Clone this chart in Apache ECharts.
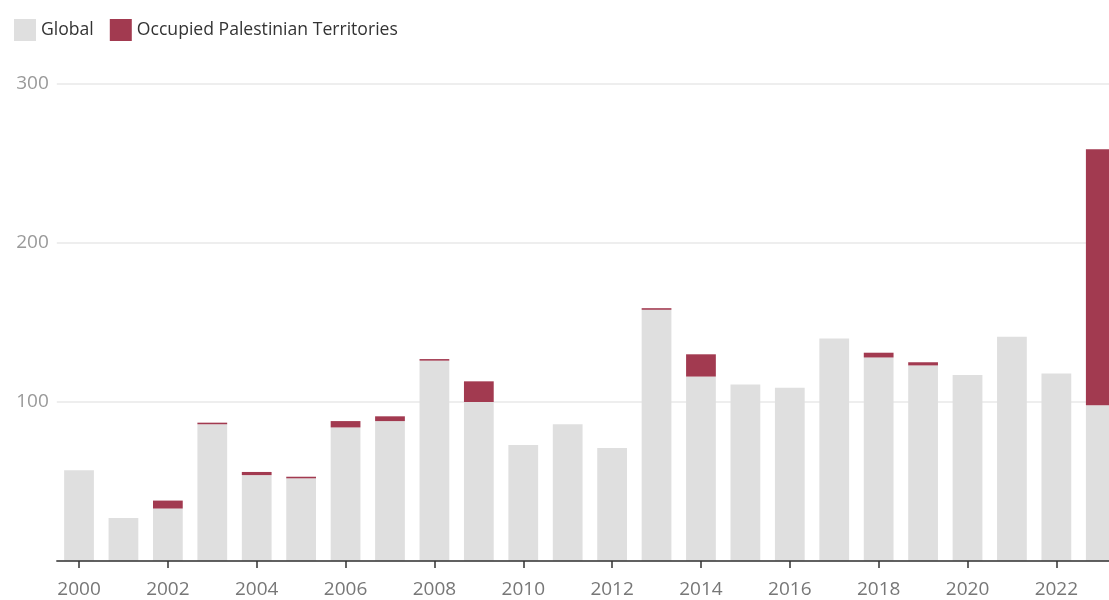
<!DOCTYPE html>
<html>
<head>
<meta charset="utf-8">
<script src="https://cdn.jsdelivr.net/npm/echarts@6/dist/echarts.min.js"></script>
<style>
html,body{margin:0;padding:0;background:#fff;overflow:hidden;width:1109px;height:600px;}
#chart{width:1123px;height:600px;}
</style>
</head>
<body>
<div id="chart"></div>
<script>
const years = ['2000','2001','2002','2003','2004','2005','2006','2007','2008','2009','2010','2011','2012','2013','2014','2015','2016','2017','2018','2019','2020','2021','2022','2023'];
const globalValues = [57,27,33,86,54,52,84,88,126,100,73,86,71,158,116,111,109,140,128,123,117,141,118,98];
const optValues = [0,0,5,1,2,1,4,3,1,13,0,0,0,1,14,0,0,0,3,2,0,0,0,161];
const yTicks = [0,100,200,300];

const FONT = '"Open Sans", sans-serif';
const chart = echarts.init(document.getElementById('chart'));
chart.setOption({
  animation: false,
  textStyle: {fontFamily: FONT},
  legend: {
    left: 14, top: 19, padding: 0, itemWidth: 22, itemHeight: 22, itemGap: 16,
    icon: 'rect',
    textStyle: {fontSize: 17.6, color: '#333', fontFamily: FONT},
    data: ['Global', 'Occupied Palestinian Territories']
  },
  grid: {left: 56.8, top: 84, right: 0, bottom: 39, containLabel: false},
  xAxis: {
    type: 'category',
    data: years,
    z: 5,
    axisLine: {show: true, lineStyle: {color: '#333', width: 1.5}},
    axisTick: {show: true, alignWithLabel: true, interval: 1, length: 7, lineStyle: {color: '#333', width: 1.5}},
    axisLabel: {interval: 1, fontSize: 19, color: '#777', margin: 19, fontFamily: FONT}
  },
  yAxis: {
    type: 'value',
    min: yTicks[0], max: yTicks[yTicks.length - 1], interval: 100,
    axisLine: {show: false},
    axisTick: {show: false},
    splitLine: {lineStyle: {color: '#e8e8e8', width: 1.5}},
    axisLabel: {showMinLabel: false, fontSize: 19, color: '#999', margin: 8, fontFamily: FONT}
  },
  series: [
    {
      name: 'Global', type: 'bar', stack: 'total', data: globalValues,
      barCategoryGap: '33%',
      itemStyle: {color: '#dfdfdf'}
    },
    {
      name: 'Occupied Palestinian Territories', type: 'bar', stack: 'total', data: optValues,
      itemStyle: {color: '#a23a50'}
    }
  ]
});
</script>
</body>
</html>
